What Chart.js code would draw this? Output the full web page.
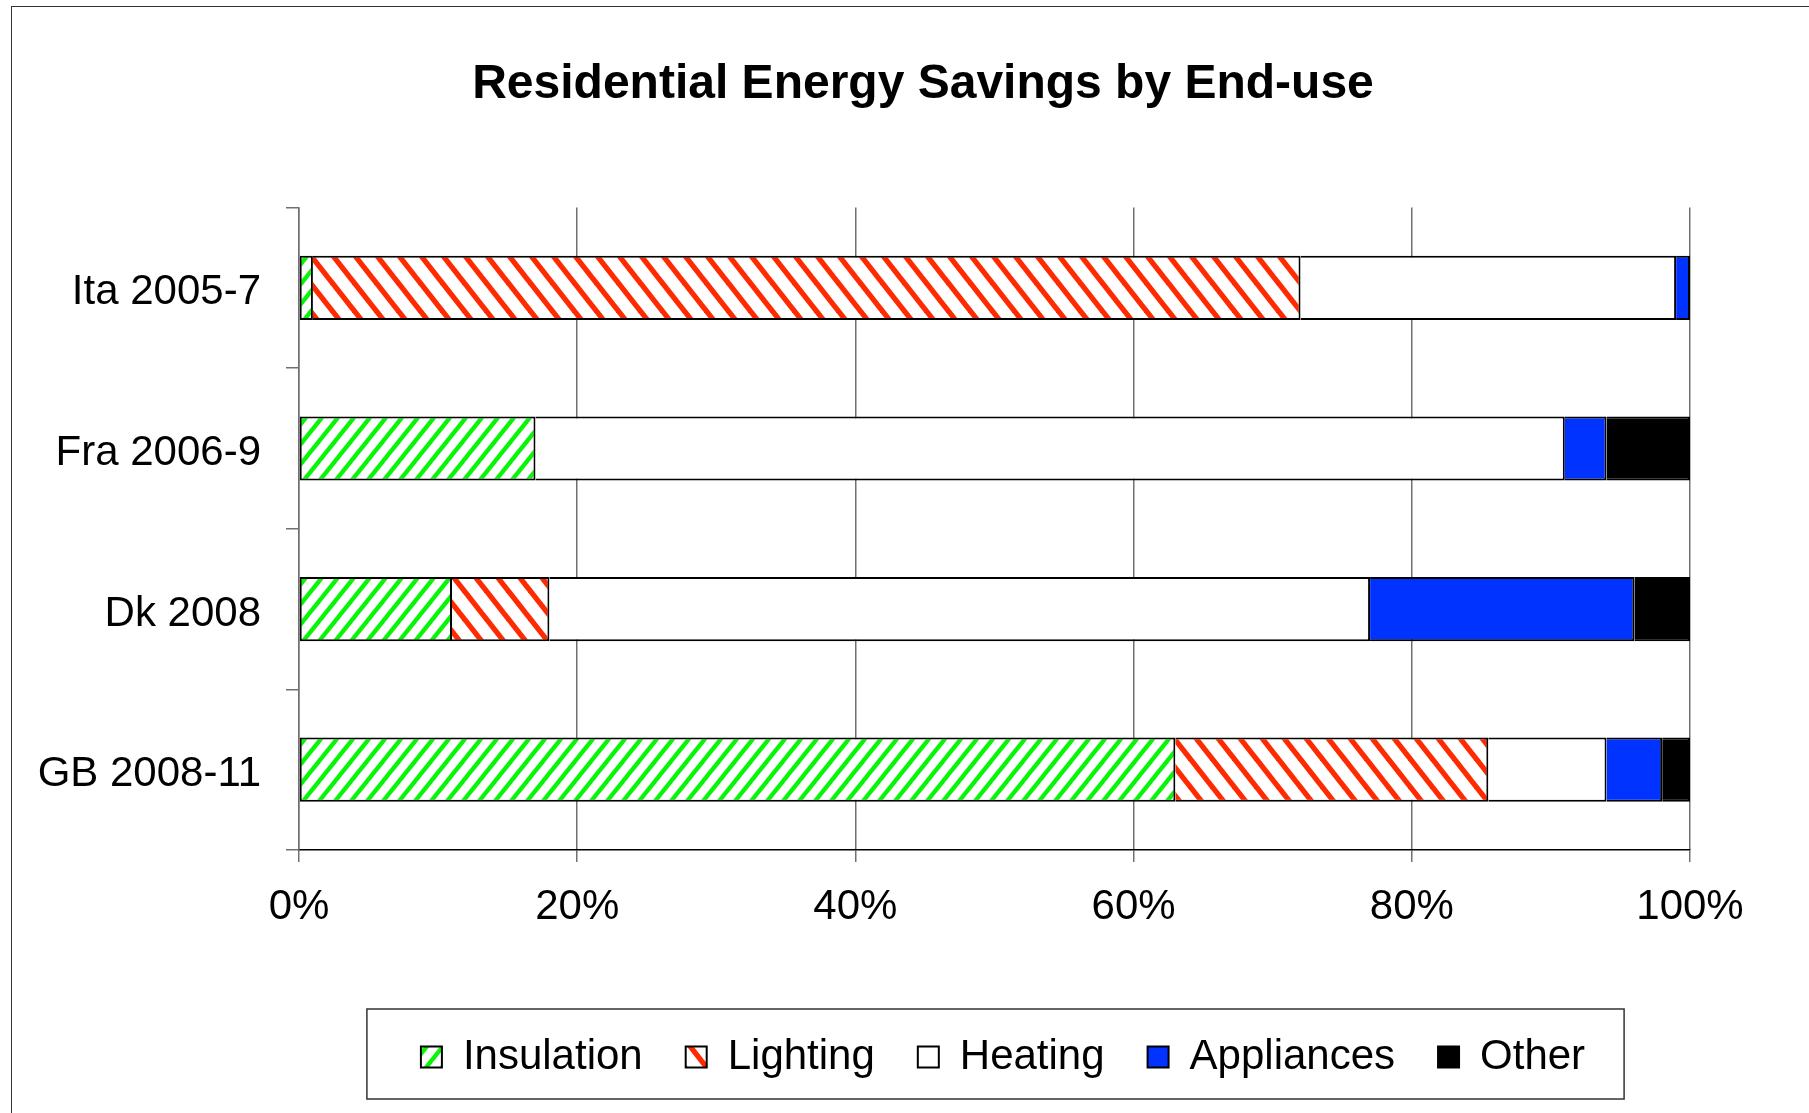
<!DOCTYPE html>
<html lang="en">
<head>
  <meta charset="UTF-8" />
  <title>Residential Energy Savings by End-use</title>
  <style>
    body {
      margin: 0;
      background: #fff;
    }
    #wrap {
      position: relative;
      width: 1809px;
      height: 1113px;
    }
    #frame {
      position: absolute;
      left: 11px;
      top: 6px;
      right: -5px;
      bottom: -5px;
      border-left: 1.5px solid #333;
      border-top: 1.5px solid #333;
      pointer-events: none;
    }
  </style>
  <script src="https://cdn.jsdelivr.net/npm/chart.js"></script>
</head>
<body>

<div id="wrap">
  <canvas id="savingsChart"></canvas>
  <div id="frame"></div>
</div>

<script>
  // Données (en % du total)
  const categories = ['Ita 2005-7', 'Fra 2006-9', 'Dk 2008', 'GB 2008-11'];
  const insulation = [1, 17, 11, 63];
  const lighting = [71, 0, 7, 22.5];
  const heating = [27, 74, 59, 8.5];
  const appliances = [1, 3, 19, 4];
  const other = [0, 6, 4, 2];
  const xTicks = [0, 20, 40, 60, 80, 100];

  // motif de hachures diagonales
  function stripes(color, w, h, thick, dir) {
    const c = document.createElement('canvas');
    c.width = w;
    c.height = h;
    const g = c.getContext('2d');
    g.fillStyle = '#fff';
    g.fillRect(0, 0, w, h);
    g.strokeStyle = color;
    g.lineWidth = thick;
    for (let k = -1; k <= 1; k++) {
      g.beginPath();
      if (dir === '/') {
        g.moveTo(k * w - w * 0.5, h * 1.5);
        g.lineTo(k * w + w * 1.5, -h * 0.5);
      } else {
        g.moveTo(k * w - w * 0.5, -h * 0.5);
        g.lineTo(k * w + w * 1.5, h * 1.5);
      }
      g.stroke();
    }
    return g.createPattern(c, 'repeat');
  }

  const greenHatch = stripes('#08f508', 16, 20, 4.3, '/');
  const redHatch = stripes('#ff2a00', 22, 28, 5.3, '\\');

  Chart.defaults.font.family = "'Liberation Sans', Arial, sans-serif";
  Chart.defaults.color = '#000';

  const TITLE_SHIFT = 78;
  const LEGEND_SHIFT = 158;

  // décale titre et légende, puis dessine le cadre de la légende
  const legendFrame = {
    id: 'legendFrame',
    afterLayout(chart) {
      chart.titleBlock.left += TITLE_SHIFT;
      chart.titleBlock.right += TITLE_SHIFT;
      chart.legend.left += LEGEND_SHIFT;
      chart.legend.right += LEGEND_SHIFT;
    },
    afterDraw(chart) {
      const boxes = chart.legend.legendHitBoxes;
      if (!boxes || !boxes.length) return;
      const first = boxes[0];
      const last = boxes[boxes.length - 1];
      const cy = first.top + first.height / 2;
      const ctx = chart.ctx;
      ctx.save();
      ctx.strokeStyle = '#333';
      ctx.lineWidth = 1.5;
      ctx.strokeRect(first.left - 54, cy - 48, (last.left + last.width + 39) - (first.left - 54), 90);
      ctx.restore();
    }
  };

  const ds = (label, data, color, skip) => ({
    label: label,
    data: data,
    backgroundColor: color,
    borderColor: '#000',
    borderWidth: 2,
    borderSkipped: skip,
    barPercentage: 0.4,
    categoryPercentage: 1.0
  });

  const ctx = document.getElementById('savingsChart').getContext('2d');
  new Chart(ctx, {
    type: 'bar',
    data: {
      labels: categories,
      datasets: [
        ds('Insulation', insulation, greenHatch, false),
        ds('Lighting', lighting, redHatch, 'start'),
        ds('Heating', heating, '#ffffff', 'start'),
        ds('Appliances', appliances, '#0033ff', 'start'),
        ds('Other', other, '#000000', 'start')
      ]
    },
    options: {
      indexAxis: 'y',
      responsive: true,
      maintainAspectRatio: false,
      animation: false,
      layout: {
        padding: { left: 0, right: 119, top: 0, bottom: 25 }
      },
      plugins: {
        title: {
          display: true,
          text: 'Residential Energy Savings by End-use',
          font: { size: 48, weight: 'bold' },
          color: '#000',
          padding: { top: 56, bottom: 94 }
        },
        legend: {
          position: 'bottom',
          labels: {
            boxWidth: 21,
            boxHeight: 21,
            padding: 43,
            font: { size: 42 },
            color: '#000',
            generateLabels: (chart) => {
              const items = Chart.defaults.plugins.legend.labels.generateLabels(chart);
              items.forEach(it => { it.lineWidth = 2; it.strokeStyle = '#000'; });
              return items;
            }
          }
        },
        tooltip: { enabled: false }
      },
      scales: {
        x: {
          stacked: true,
          min: 0,
          max: 100,
          afterBuildTicks: (scale) => {
            scale.ticks = xTicks.map(v => ({ value: v }));
          },
          afterFit: (scale) => { scale.height = 143; },
          grid: {
            color: '#707070',
            lineWidth: 1.5,
            tickLength: 12
          },
          border: { display: true, color: '#000', width: 1.5 },
          ticks: {
            padding: 20,
            maxRotation: 0,
            font: { size: 42 },
            color: '#000',
            callback: (v) => v + '%'
          }
        },
        y: {
          stacked: true,
          afterFit: (scale) => { scale.width = 299; },
          grid: {
            offset: true,
            drawOnChartArea: false,
            color: '#707070',
            lineWidth: 1.5,
            tickLength: 13
          },
          border: { display: true, color: '#707070', width: 1.5 },
          ticks: {
            padding: 25,
            labelOffset: 5,
            font: { size: 42 },
            color: '#000'
          }
        }
      }
    },
    plugins: [legendFrame]
  });
</script>

</body>
</html>
